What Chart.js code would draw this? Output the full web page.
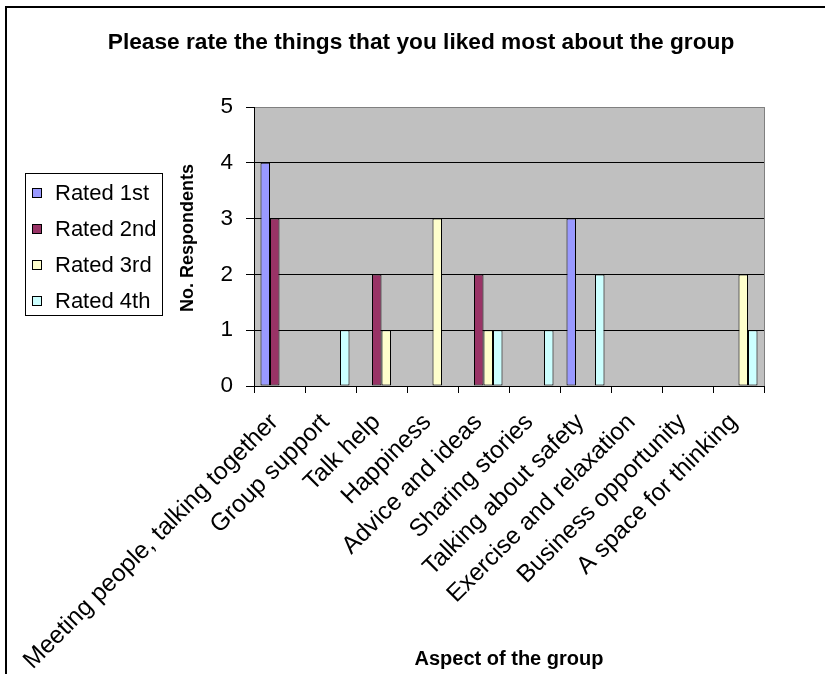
<!DOCTYPE html>
<html>
<head>
<meta charset="utf-8">
<script src="https://cdn.jsdelivr.net/npm/chart.js@4"></script>
<style>
  html, body { margin: 0; padding: 0; background: #fff; }
  canvas { display: block; }
</style>
</head>
<body>
<canvas id="chart" width="825" height="674"></canvas>
<script>
const FONT = "'Liberation Sans', Arial, sans-serif";

// categories along the x axis
const categories = [
  'Meeting people, talking together',
  'Group support',
  'Talk help',
  'Happiness',
  'Advice and ideas',
  'Sharing stories',
  'Talking about safety',
  'Exercise and relaxation',
  'Business opportunity',
  'A space for thinking',
];

// number of respondents per rating
const rated1st = [4, 0, 0, 0, 0, 0, 3, 0, 0, 0];
const rated2nd = [3, 0, 2, 0, 2, 0, 0, 0, 0, 0];
const rated3rd = [0, 0, 1, 3, 1, 0, 0, 0, 0, 2];
const rated4th = [0, 1, 0, 0, 1, 1, 2, 0, 0, 1];

const seriesLabels = ['Rated 1st', 'Rated 2nd', 'Rated 3rd', 'Rated 4th'];
const yMax = 5;
const yStep = 1;
const yTitle = 'No. Respondents';

const COLORS = ['#9999ff', '#993366', '#ffffcc', '#ccffff'];

const barDS = (label, data, color) => ({
  label, data,
  backgroundColor: color,
  borderColor: '#000',
  borderWidth: 1,
  borderSkipped: false,
  categoryPercentage: 0.745,
  barPercentage: 1,
});

/** grey plot area, excel style */
const plotBg = {
  id: 'plotBg',
  beforeDraw(chart) {
    const { ctx, chartArea: a } = chart;
    ctx.save();
    ctx.fillStyle = '#c0c0c0';
    ctx.fillRect(a.left, a.top, a.right - a.left, a.bottom - a.top);
    ctx.restore();
  },
  afterDraw(chart) {
    const { ctx, chartArea: a } = chart;
    ctx.save();
    // plot border, right side
    ctx.strokeStyle = '#808080';
    ctx.lineWidth = 1;
    ctx.beginPath();
    ctx.moveTo(Math.round(a.right) + 0.5, a.top);
    ctx.lineTo(Math.round(a.right) + 0.5, a.bottom);
    ctx.stroke();
    // y axis title, sits a little above the axis middle
    ctx.fillStyle = '#000';
    ctx.font = 'bold 18px ' + FONT;
    ctx.textAlign = 'center';
    ctx.textBaseline = 'middle';
    ctx.translate(188, 238);
    ctx.rotate(-Math.PI / 2);
    ctx.fillText(yTitle, 0, 0);
    ctx.setTransform(1, 0, 0, 1, 0, 0);
    // outer chart frame (runs off the picture right and bottom)
    ctx.strokeStyle = '#000';
    ctx.lineWidth = 2;
    ctx.strokeRect(6, 7, 900, 900);
    ctx.restore();
  },
};

/** boxed legend on the left */
const boxLegend = {
  id: 'boxLegend',
  afterDraw(chart) {
    const { ctx } = chart;
    const x = 25, y = 173, w = 137, h = 142;
    ctx.save();
    ctx.fillStyle = '#fff';
    ctx.fillRect(x, y, w, h);
    ctx.strokeStyle = '#000';
    ctx.lineWidth = 1;
    ctx.strokeRect(x + 0.5, y + 0.5, w, h);
    ctx.font = '22px ' + FONT;
    ctx.textBaseline = 'middle';
    chart.data.datasets.forEach((ds, i) => {
      const cy = 193 + i * 36;
      ctx.fillStyle = ds.backgroundColor;
      ctx.fillRect(32, cy - 5, 10, 10);
      ctx.strokeRect(32.5, cy - 4.5, 9, 9);
      ctx.fillStyle = '#000';
      ctx.fillText(ds.label, 55, cy + 1);
    });
    ctx.restore();
  },
};

new Chart(document.getElementById('chart'), {
  type: 'bar',
  data: {
    labels: categories,
    datasets: [
      barDS(seriesLabels[0], rated1st, COLORS[0]),
      barDS(seriesLabels[1], rated2nd, COLORS[1]),
      barDS(seriesLabels[2], rated3rd, COLORS[2]),
      barDS(seriesLabels[3], rated4th, COLORS[3]),
    ],
  },
  options: {
    responsive: false,
    animation: false,
    devicePixelRatio: 1,
    layout: { padding: { left: 78, right: 61, top: 0, bottom: 0 } },
    plugins: {
      legend: { display: false },
      tooltip: { enabled: false },
      title: {
        display: true,
        text: 'Please rate the things that you liked most about the group',
        color: '#000',
        font: { family: FONT, size: 22.7, weight: 'bold', lineHeight: 1.2 },
        padding: { top: 29, bottom: 50.8 },
      },
    },
    scales: {
      x: {
        afterFit: (s) => { s.height = 288; },
        grid: {
          offset: true,
          drawOnChartArea: false,
          color: '#000',
          tickColor: '#000',
          tickLength: 7,
        },
        border: { color: '#000', width: 1 },
        ticks: {
          color: '#000',
          autoSkip: false,
          minRotation: 45,
          maxRotation: 45,
          padding: 15,
          labelOffset: -5,
          font: { family: FONT, size: 24.5 },
        },
        title: {
          display: true,
          text: 'Aspect of the group',
          color: '#000',
          font: { family: FONT, size: 20, weight: 'bold', lineHeight: 1.2 },
          padding: { top: 0, bottom: 3 },
        },
      },
      y: {
        min: 0,
        max: yMax,
        afterFit: (s) => { s.width = 176; },
        grid: {
          color: (c) => (c.tick && c.tick.value === yMax ? '#808080' : '#000'),
          tickColor: '#000',
          tickLength: 8,
        },
        border: { color: '#000', width: 1 },
        ticks: {
          stepSize: yStep,
          color: '#000',
          padding: 13,
          font: { family: FONT, size: 22.5 },
        },
      },
    },
  },
  plugins: [plotBg, boxLegend],
});
</script>
</body>
</html>
